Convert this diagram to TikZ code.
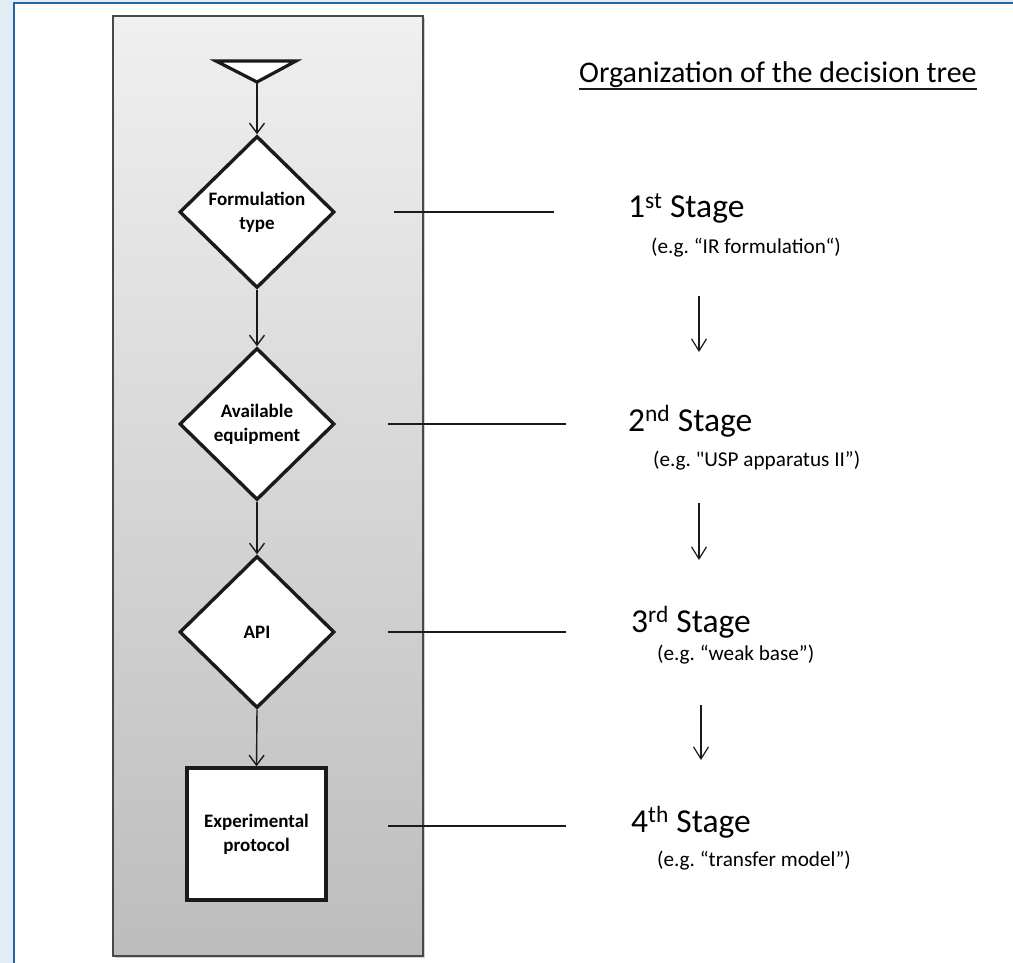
\documentclass[tikz,border=0pt]{standalone}
\usepackage{fontspec}
\setmainfont{Carlito}
\usetikzlibrary{shapes.geometric,arrows.meta,shadows}
\definecolor{pagebg}{HTML}{E3EBF4}
\definecolor{frameblue}{HTML}{2563A8}
\definecolor{ink}{HTML}{1A1A1A}
\frenchspacing
\begin{document}
\begin{tikzpicture}[x=1pt,y=-1pt,
  decision/.style={diamond, draw=ink, line width=3.4pt, fill=white,
    minimum width=155pt, minimum height=152pt, inner sep=0pt, align=center,
    font=\bfseries\fontsize{19}{24}\selectfont},
  protocolbox/.style={rectangle, draw=ink, line width=3.4pt, fill=white,
    minimum width=139pt, minimum height=132pt, inner sep=0pt, align=center,
    font=\bfseries\fontsize{19}{24}\selectfont},
  flow/.style={draw=ink, line width=1.4pt, -{Straight Barb[length=10pt,width=15pt,line width=1.4pt]}},
  stagearrow/.style={draw=ink, line width=1.2pt, -{Straight Barb[length=12pt,width=15pt,line width=1.2pt]}},
  tie/.style={draw=ink, line width=2pt},
  stagelabel/.style={anchor=base west, inner sep=0pt, font=\fontsize{33.5}{38}\selectfont},
  examplelabel/.style={anchor=base west, inner sep=0pt, font=\fontsize{21.2}{26}\selectfont}
]
% page frame
\useasboundingbox (0,0) rectangle (1013,963);
\fill[pagebg] (0,0) rectangle (1013,963);
\fill[white] (14,3) rectangle (1020,970);
\draw[frameblue, line width=2.2pt] (14,975) -- (14,3) -- (1020,3);

% shaded panel holding the flow chart
\path[draw=ink!80, line width=1.3pt, top color=black!6, bottom color=black!26,
  drop shadow={shadow xshift=2pt, shadow yshift=-2pt, opacity=0.35}]
  (113,16) rectangle (423,956);

% start symbol
\draw[ink, line width=3.2pt, line join=miter, fill=white]
  (216,61) -- (296,61) -- (257,82) -- cycle;
\coordinate (start) at (257,83);

% decision steps
\node[decision] (form) at (257,212) {Formulation\\type};
\node[decision] (equip) at (257,424) {Available\\equipment};
\node[decision] (api) at (257,632) {API};
\node[protocolbox] (proto) at (256.5,834) {Experimental\\protocol};

\draw[flow] (start) -- (form.north);
\draw[flow] (form.south) -- (equip.north);
\draw[flow] (equip.south) -- (api.north);
\draw[flow] (api.south) -- (proto.north);

% title
\node[anchor=base west, inner sep=0pt, font=\fontsize{30}{36}\selectfont] (title) at (579,83)
  {Organization of the decision tree};
\draw[ink, line width=1.5pt] ([yshift=-6pt]title.base west) -- ([yshift=-6pt]title.base east);

% stages
\node[stagelabel] (s1) at (628,218) {1\textsuperscript{st} Stage};
\node[examplelabel] (e1) at (651,253) {(e.g. “IR formulation“)};
\node[stagelabel] (s2) at (628,431) {2\textsuperscript{nd} Stage};
\node[examplelabel] (e2) at (653,466) {(e.g. \textquotedbl USP apparatus II”)};
\node[stagelabel] (s3) at (631,632) {3\textsuperscript{rd} Stage};
\node[examplelabel] (e3) at (657,660) {(e.g. “weak base”)};
\node[stagelabel] (s4) at (631,832) {4\textsuperscript{th} Stage};
\node[examplelabel] (e4) at (657,866) {(e.g. “transfer model”)};

% ties between flow chart and stages
\coordinate (t1a) at (394,212); \coordinate (t1b) at (554,212);
\coordinate (t2a) at (388,424); \coordinate (t2b) at (566,424);
\coordinate (t3a) at (388,632); \coordinate (t3b) at (566,632);
\coordinate (t4a) at (388,826); \coordinate (t4b) at (566,826);
\draw[tie] (t1a) -- (t1b);
\draw[tie] (t2a) -- (t2b);
\draw[tie] (t3a) -- (t3b);
\draw[tie] (t4a) -- (t4b);

% arrows between stages
\coordinate (a1a) at (699,296); \coordinate (a1b) at (699,352);
\coordinate (a2a) at (699,503); \coordinate (a2b) at (699,560);
\coordinate (a3a) at (701,705); \coordinate (a3b) at (701,760);
\draw[stagearrow] (a1a) -- (a1b);
\draw[stagearrow] (a2a) -- (a2b);
\draw[stagearrow] (a3a) -- (a3b);
\end{tikzpicture}
\end{document}
